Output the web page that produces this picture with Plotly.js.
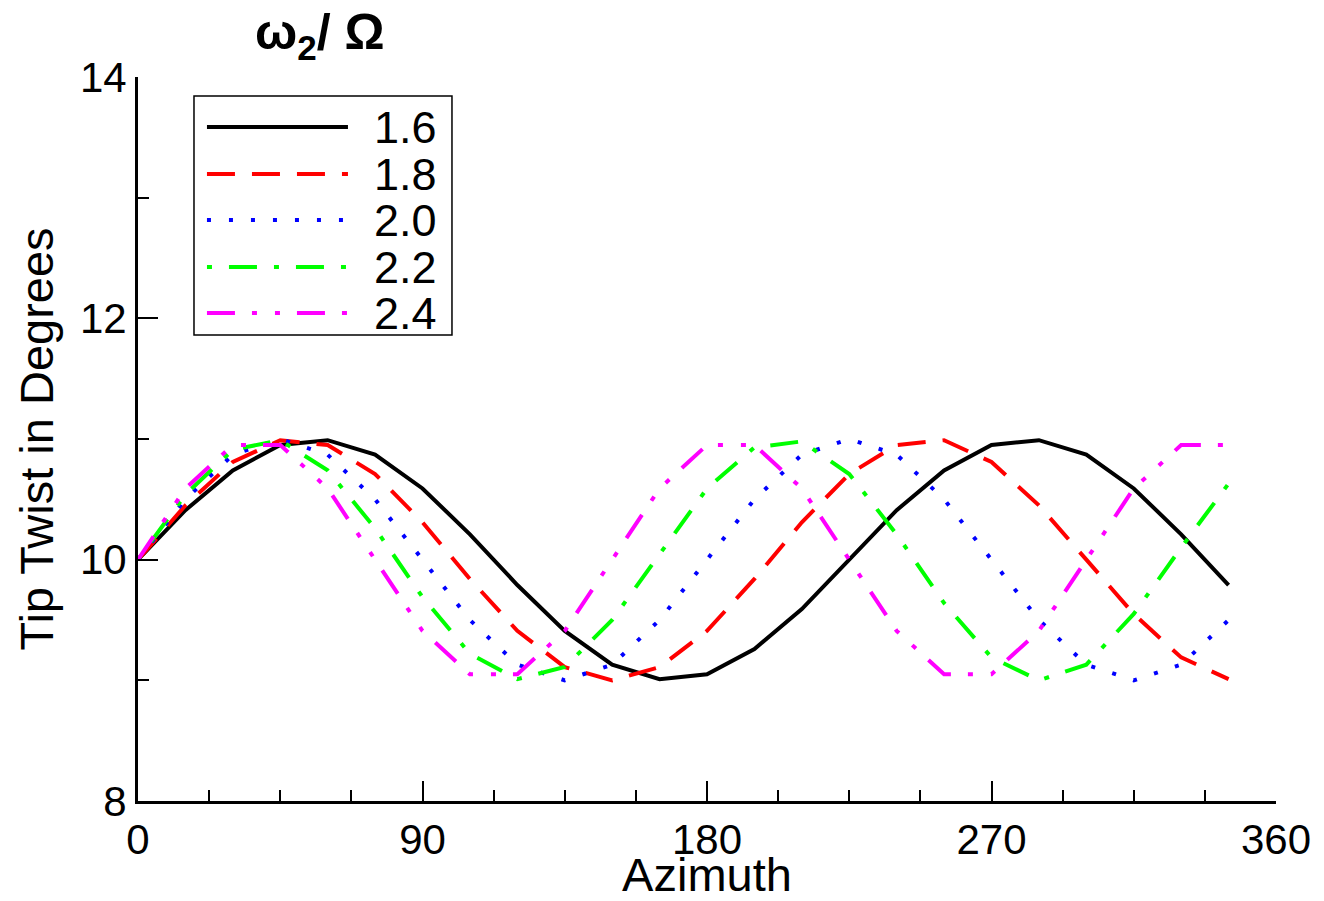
<!DOCTYPE html>
<html>
<head>
<meta charset="utf-8">
<script src="https://cdn.plot.ly/plotly-3.0.1.min.js"></script>
<style>
html,body{margin:0;padding:0;background:#fff;}
#chart{width:1324px;height:901px;}
</style>
</head>
<body>
<div id="chart"></div>
<script>
// Azimuth samples (degrees)
const azimuth = [0,15,30,45,60,75,90,105,120,135,150,165,180,195,210,225,240,255,270,285,300,315,330,345];

// Tip twist (degrees) for each frequency ratio omega2/Omega
const series16 = [10.00,10.41,10.74,10.95,10.99,10.87,10.59,10.21,9.79,9.41,9.13,9.01,9.05,9.26,9.59,10.00,10.41,10.74,10.95,10.99,10.87,10.59,10.21,9.79];
const series18 = [10.00,10.45,10.81,10.99,10.95,10.71,10.31,9.84,9.41,9.11,9.00,9.11,9.41,9.84,10.31,10.71,10.95,10.99,10.81,10.45,10.00,9.55,9.19,9.01];
const series20 = [10.00,10.50,10.87,11.00,10.87,10.50,10.00,9.50,9.13,9.00,9.13,9.50,10.00,10.50,10.87,11.00,10.87,10.50,10.00,9.50,9.13,9.00,9.13,9.50];
const series22 = [10.00,10.54,10.91,10.99,10.74,10.26,9.69,9.22,9.01,9.11,9.50,10.05,10.59,10.93,10.98,10.71,10.21,9.64,9.19,9.00,9.13,9.55,10.10,10.63];
const series24 = [10.00,10.59,10.95,10.95,10.59,10.00,9.41,9.05,9.05,9.41,10.00,10.59,10.95,10.95,10.59,10.00,9.41,9.05,9.05,9.41,10.00,10.59,10.95,10.95];

const seriesNames = ['1.6','1.8','2.0','2.2','2.4'];
const seriesData = [series16, series18, series20, series22, series24];
const seriesColors = ['#000000','#ff0000','#0000ff','#00ff00','#ff00ff'];
const seriesDash = ['solid','28px,17px','4px,18px','5px,17px,28px,17px','28px,17px,5px,18px,5px,17px'];
const seriesWidth = [4,4,4,4,4];

const xTicks = [0,90,180,270,360];
const yTicks = [8,10,12,14];
const legendTitle = '<b>ω<sub>2</sub>/ Ω</b>';

const FONT = 'Liberation Sans, Arial, Helvetica, sans-serif';

const traces = seriesData.map((ys, i) => ({
  x: azimuth,
  y: ys,
  type: 'scatter',
  mode: 'lines',
  name: seriesNames[i],
  line: {color: seriesColors[i], width: seriesWidth[i], dash: seriesDash[i]},
  showlegend: false,
  hoverinfo: 'skip'
}));

// Custom legend (box, sample lines, labels) in paper coordinates
const L = {x0: 0.0492, x1: 0.2759, y0: 0.6436, y1: 0.9738, sx0: 0.0606, sx1: 0.1845, tx: 0.2056,
           rows: [0.9309, 0.8660, 0.8025, 0.7376, 0.6740]};
const shapes = [{type:'rect', xref:'paper', yref:'paper', x0:L.x0, x1:L.x1, y0:L.y0, y1:L.y1,
                 line:{color:'#000', width:1.5}, fillcolor:'rgba(0,0,0,0)'}];
const annotations = [];
seriesNames.forEach((n, i) => {
  shapes.push({type:'line', xref:'paper', yref:'paper', x0:L.sx0, x1:L.sx1, y0:L.rows[i], y1:L.rows[i],
               line:{color:seriesColors[i], width:seriesWidth[i], dash:seriesDash[i]}});
  annotations.push({xref:'paper', yref:'paper', x:L.tx, y:L.rows[i], xanchor:'left', yanchor:'middle',
                    text:n, showarrow:false, height:44, valign:'middle',
                    font:{family:FONT, size:45, color:'#000'}});
});
annotations.push({xref:'paper', yref:'paper', x:0.16, y:1.058, xanchor:'center', yanchor:'middle',
                  text:legendTitle, showarrow:false, font:{family:FONT, size:50, color:'#000'}});

const layout = {
  width: 1324, height: 901,
  margin: {l:138, r:48, t:77, b:100, pad:0},
  paper_bgcolor: '#fff', plot_bgcolor: '#fff',
  font: {family: FONT, color: '#000'},
  showlegend: false,
  xaxis: {
    range: [0, 360], tickvals: xTicks, ticktext: xTicks.map(String),
    ticks: 'inside', ticklen: 20, tickwidth: 2, tickcolor: '#000',
    minor: {dtick: 22.5, tick0: 0, ticks: 'inside', ticklen: 11, tickwidth: 2, tickcolor: '#000', showgrid:false},
    showline: true, linecolor: '#000', linewidth: 3, mirror: false,
    showgrid: false, zeroline: false,
    tickfont: {family: FONT, size: 42, color:'#000'},
    title: {text: 'Azimuth', font: {family: FONT, size: 47, color:'#000'}, standoff: 6}
  },
  yaxis: {
    range: [8, 14], tickvals: yTicks, ticktext: yTicks.map(String),
    ticks: 'inside', ticklen: 20, tickwidth: 2, tickcolor: '#000',
    minor: {dtick: 1, tick0: 8, ticks: 'inside', ticklen: 11, tickwidth: 2, tickcolor: '#000', showgrid:false},
    showline: true, linecolor: '#000', linewidth: 3, mirror: false,
    showgrid: false, zeroline: false,
    tickfont: {family: FONT, size: 42, color:'#000'},
    title: {text: 'Tip Twist in Degrees', font: {family: FONT, size: 47, color:'#000'}, standoff: 12}
  },
  shapes: shapes,
  annotations: annotations
};

Plotly.newPlot('chart', traces, layout, {displayModeBar: false, staticPlot: true});
</script>
</body>
</html>
